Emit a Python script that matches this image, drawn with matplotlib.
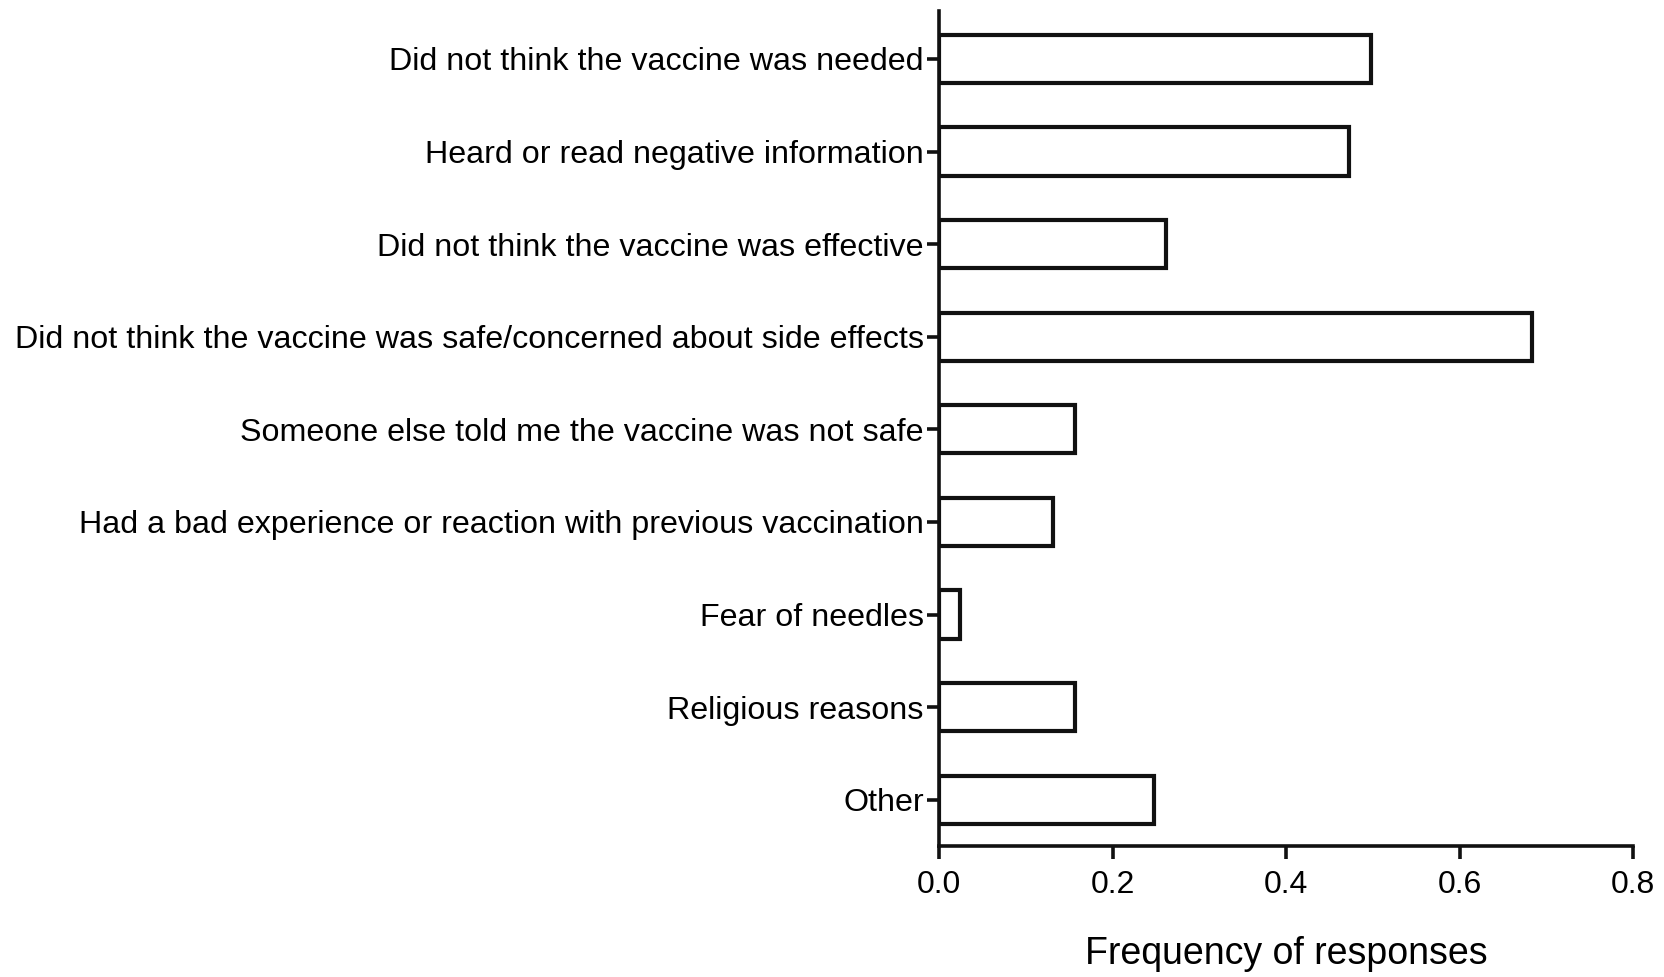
import matplotlib.pyplot as plt

plt.rcParams['font.family'] = ['Liberation Sans', 'DejaVu Sans']

categories = [
    'Did not think the vaccine was needed',
    'Heard or read negative information',
    'Did not think the vaccine was effective',
    'Did not think the vaccine was safe/concerned about side effects',
    'Someone else told me the vaccine was not safe',
    'Had a bad experience or reaction with previous vaccination',
    'Fear of needles',
    'Religious reasons',
    'Other',
]
freq = [0.498, 0.472, 0.261, 0.683, 0.157, 0.131, 0.024, 0.157, 0.248]
xticks = [0.0, 0.2, 0.4, 0.6, 0.8]

fig = plt.figure(figsize=(16.65, 9.77), dpi=100)
ax = fig.add_axes([0.564, 0.134, 0.417, 0.855])

pos = list(range(len(categories)))
ax.barh(pos, freq, height=0.52, color='white', edgecolor='#111111', linewidth=3.0)

ax.set_ylim(8.5, -0.52)
ax.set_xlim(0, 0.8)
ax.set_yticks(pos)
ax.set_yticklabels(categories, fontsize=23.2)
ax.set_xticks(xticks)
ax.set_xticklabels(['%.1f' % t for t in xticks], fontsize=23)
ax.set_xlabel('Frequency of responses', fontsize=27, labelpad=26)

for s in ['top', 'right']:
    ax.spines[s].set_visible(False)
for s in ['left', 'bottom']:
    ax.spines[s].set_linewidth(2.6)
    ax.spines[s].set_color('#111111')
ax.tick_params(axis='both', length=9, width=2.6, color='#111111', direction='out')
ax.tick_params(axis='y', pad=2)
ax.tick_params(axis='x', pad=8)

fig.savefig('out.png', dpi=100)
